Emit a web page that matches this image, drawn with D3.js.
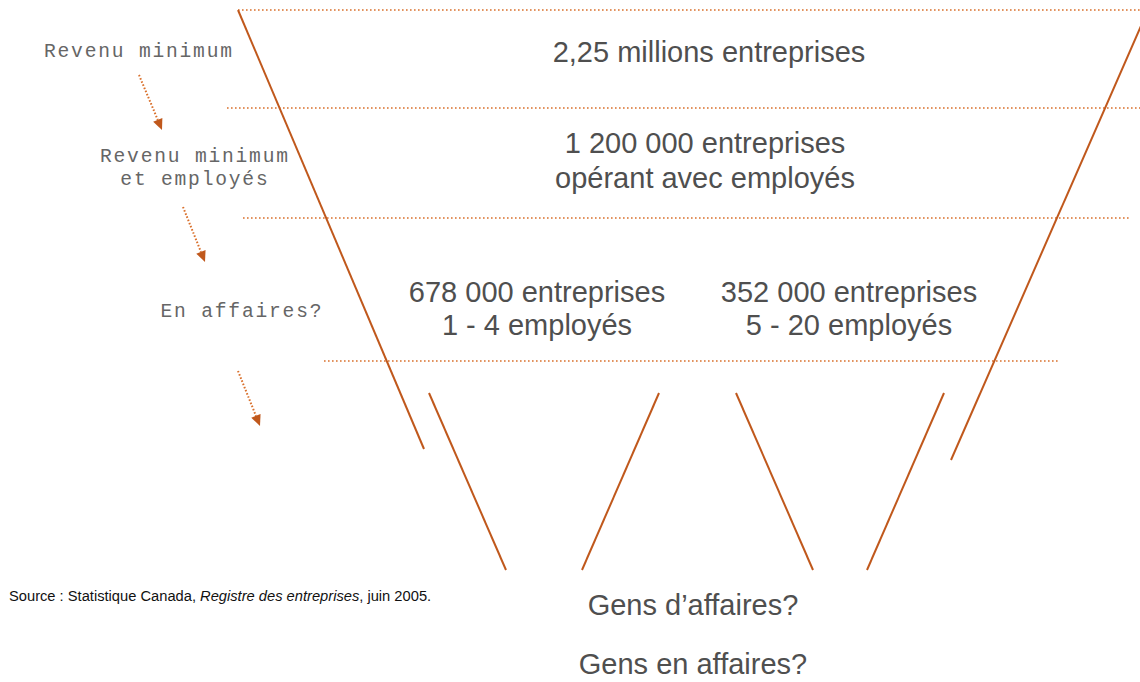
<!DOCTYPE html>
<html>
<head>
<meta charset="utf-8">
<script src="https://cdn.jsdelivr.net/npm/d3@7"></script>
<style>
    html, body { margin: 0; padding: 0; background: #fff; }
    svg { display: block; }
</style>
</head>
<body>
<div id="funnel-viz"></div>
<script>
// Funnel: from business register counts down to "gens d'affaires"

const stageLabels = [
    ['Revenu minimum'],
    ['Revenu minimum', 'et employés'],
    ['En affaires?']
];

const levelCounts = [
    ['2,25 millions entreprises'],
    ['1 200 000 entreprises', 'opérant avec employés']
];

const splitCounts = [
    ['678 000 entreprises', '1 - 4 employés'],
    ['352 000 entreprises', '5 - 20 employés']
];

const bottomLabels = ['Gens d\u2019affaires?', 'Gens en affaires?'];

const sourceParts = [
    { text: 'Source : Statistique Canada, ', italic: false },
    { text: 'Registre des entreprises', italic: true },
    { text: ', juin 2005.', italic: false }
];

function createFunnel() {
    const container = d3.select('#funnel-viz');
    container.html('');

    const width = 1140;
    const height = 682;

    const svg = container.append('svg')
        .attr('width', width)
        .attr('height', height);

    const solid = '#c0581c';
    const dotted = '#d9702c';
    const textColor = '#4f4f4f';

    // level boundaries (dotted separators)
    const separators = [
        { y: 10, x1: 238, x2: 1140 },
        { y: 108, x1: 227, x2: 1140 },
        { y: 218, x1: 243, x2: 1130 },
        { y: 361, x1: 324, x2: 1058 }
    ];

    svg.selectAll('.sep')
        .data(separators)
        .enter()
        .append('line')
        .attr('class', 'sep')
        .attr('x1', d => d.x1)
        .attr('x2', d => d.x2)
        .attr('y1', d => d.y)
        .attr('y2', d => d.y)
        .attr('stroke', dotted)
        .attr('stroke-width', 1.6)
        .attr('stroke-dasharray', '1.6,2.4');

    // funnel walls
    const walls = [
        [[238, 10], [424, 449]],
        [[1148, 10], [951, 460]],
        [[429, 393], [506, 570]],
        [[659, 393], [582, 570]],
        [[736, 393], [813, 570]],
        [[944, 393], [867, 570]]
    ];

    const line = d3.line();

    svg.selectAll('.wall')
        .data(walls)
        .enter()
        .append('path')
        .attr('class', 'wall')
        .attr('d', d => line(d))
        .attr('fill', 'none')
        .attr('stroke', solid)
        .attr('stroke-width', 2);

    // dotted arrows between stage labels
    const arrows = [
        [[139, 75], [162, 130]],
        [[183, 207], [205, 262]],
        [[238, 371], [260, 426]]
    ];

    const headLen = 11;
    const headHalf = 5;

    arrows.forEach(([a, b]) => {
        const dx = b[0] - a[0];
        const dy = b[1] - a[1];
        const len = Math.sqrt(dx * dx + dy * dy);
        const ux = dx / len, uy = dy / len;
        const bx = b[0] - ux * headLen, by = b[1] - uy * headLen;

        svg.append('line')
            .attr('x1', a[0]).attr('y1', a[1])
            .attr('x2', bx).attr('y2', by)
            .attr('stroke', dotted)
            .attr('stroke-width', 2)
            .attr('stroke-dasharray', '1.6,1.8');

        svg.append('path')
            .attr('d', line([
                b,
                [bx - uy * headHalf, by + ux * headHalf],
                [bx + uy * headHalf, by - ux * headHalf]
            ]) + 'Z')
            .attr('fill', solid);
    });

    // stage labels (left), typewriter style
    const stagePos = [
        { x: 138, y: 57 },
        { x: 194, y: 162 },
        { x: 241, y: 317 }
    ];

    stageLabels.forEach((lines, i) => {
        const t = svg.append('text')
            .attr('x', stagePos[i].x + 0.7)
            .attr('y', stagePos[i].y)
            .attr('text-anchor', 'middle')
            .attr('font-family', '"Liberation Mono", "Courier New", monospace')
            .attr('font-size', '19.6px')
            .attr('letter-spacing', '1.8px')
            .attr('fill', '#666');
        lines.forEach((l, j) => {
            t.append('tspan')
                .attr('x', stagePos[i].x + 0.9)
                .attr('dy', j === 0 ? 0 : 23)
                .text(l);
        });
    });

    // counts inside the funnel
    function block(lines, x, y, gap, size) {
        const t = svg.append('text')
            .attr('x', x)
            .attr('y', y)
            .attr('text-anchor', 'middle')
            .attr('font-family', '"Liberation Sans", Arial, sans-serif')
            .attr('font-size', size)
            .attr('fill', textColor);
        lines.forEach((l, j) => {
            t.append('tspan')
                .attr('x', x)
                .attr('dy', j === 0 ? 0 : gap)
                .text(l);
        });
    }

    block(levelCounts[0], 709, 62, 35, '29px');
    block(levelCounts[1], 705, 153, 35, '29px');
    block(splitCounts[0], 537, 302, 33, '29px');
    block(splitCounts[1], 849, 302, 33, '29px');

    block([bottomLabels[0]], 693, 615, 0, '29px');
    block([bottomLabels[1]], 693, 674, 0, '29px');

    // source note
    const src = svg.append('text')
        .attr('x', 9)
        .attr('y', 601)
        .attr('font-family', '"Liberation Sans", Arial, sans-serif')
        .attr('font-size', '14.7px')
        .attr('fill', '#111');

    src.selectAll('tspan')
        .data(sourceParts)
        .enter()
        .append('tspan')
        .attr('font-style', d => d.italic ? 'italic' : 'normal')
        .text(d => d.text);
}

createFunnel();
</script>
</body>
</html>
